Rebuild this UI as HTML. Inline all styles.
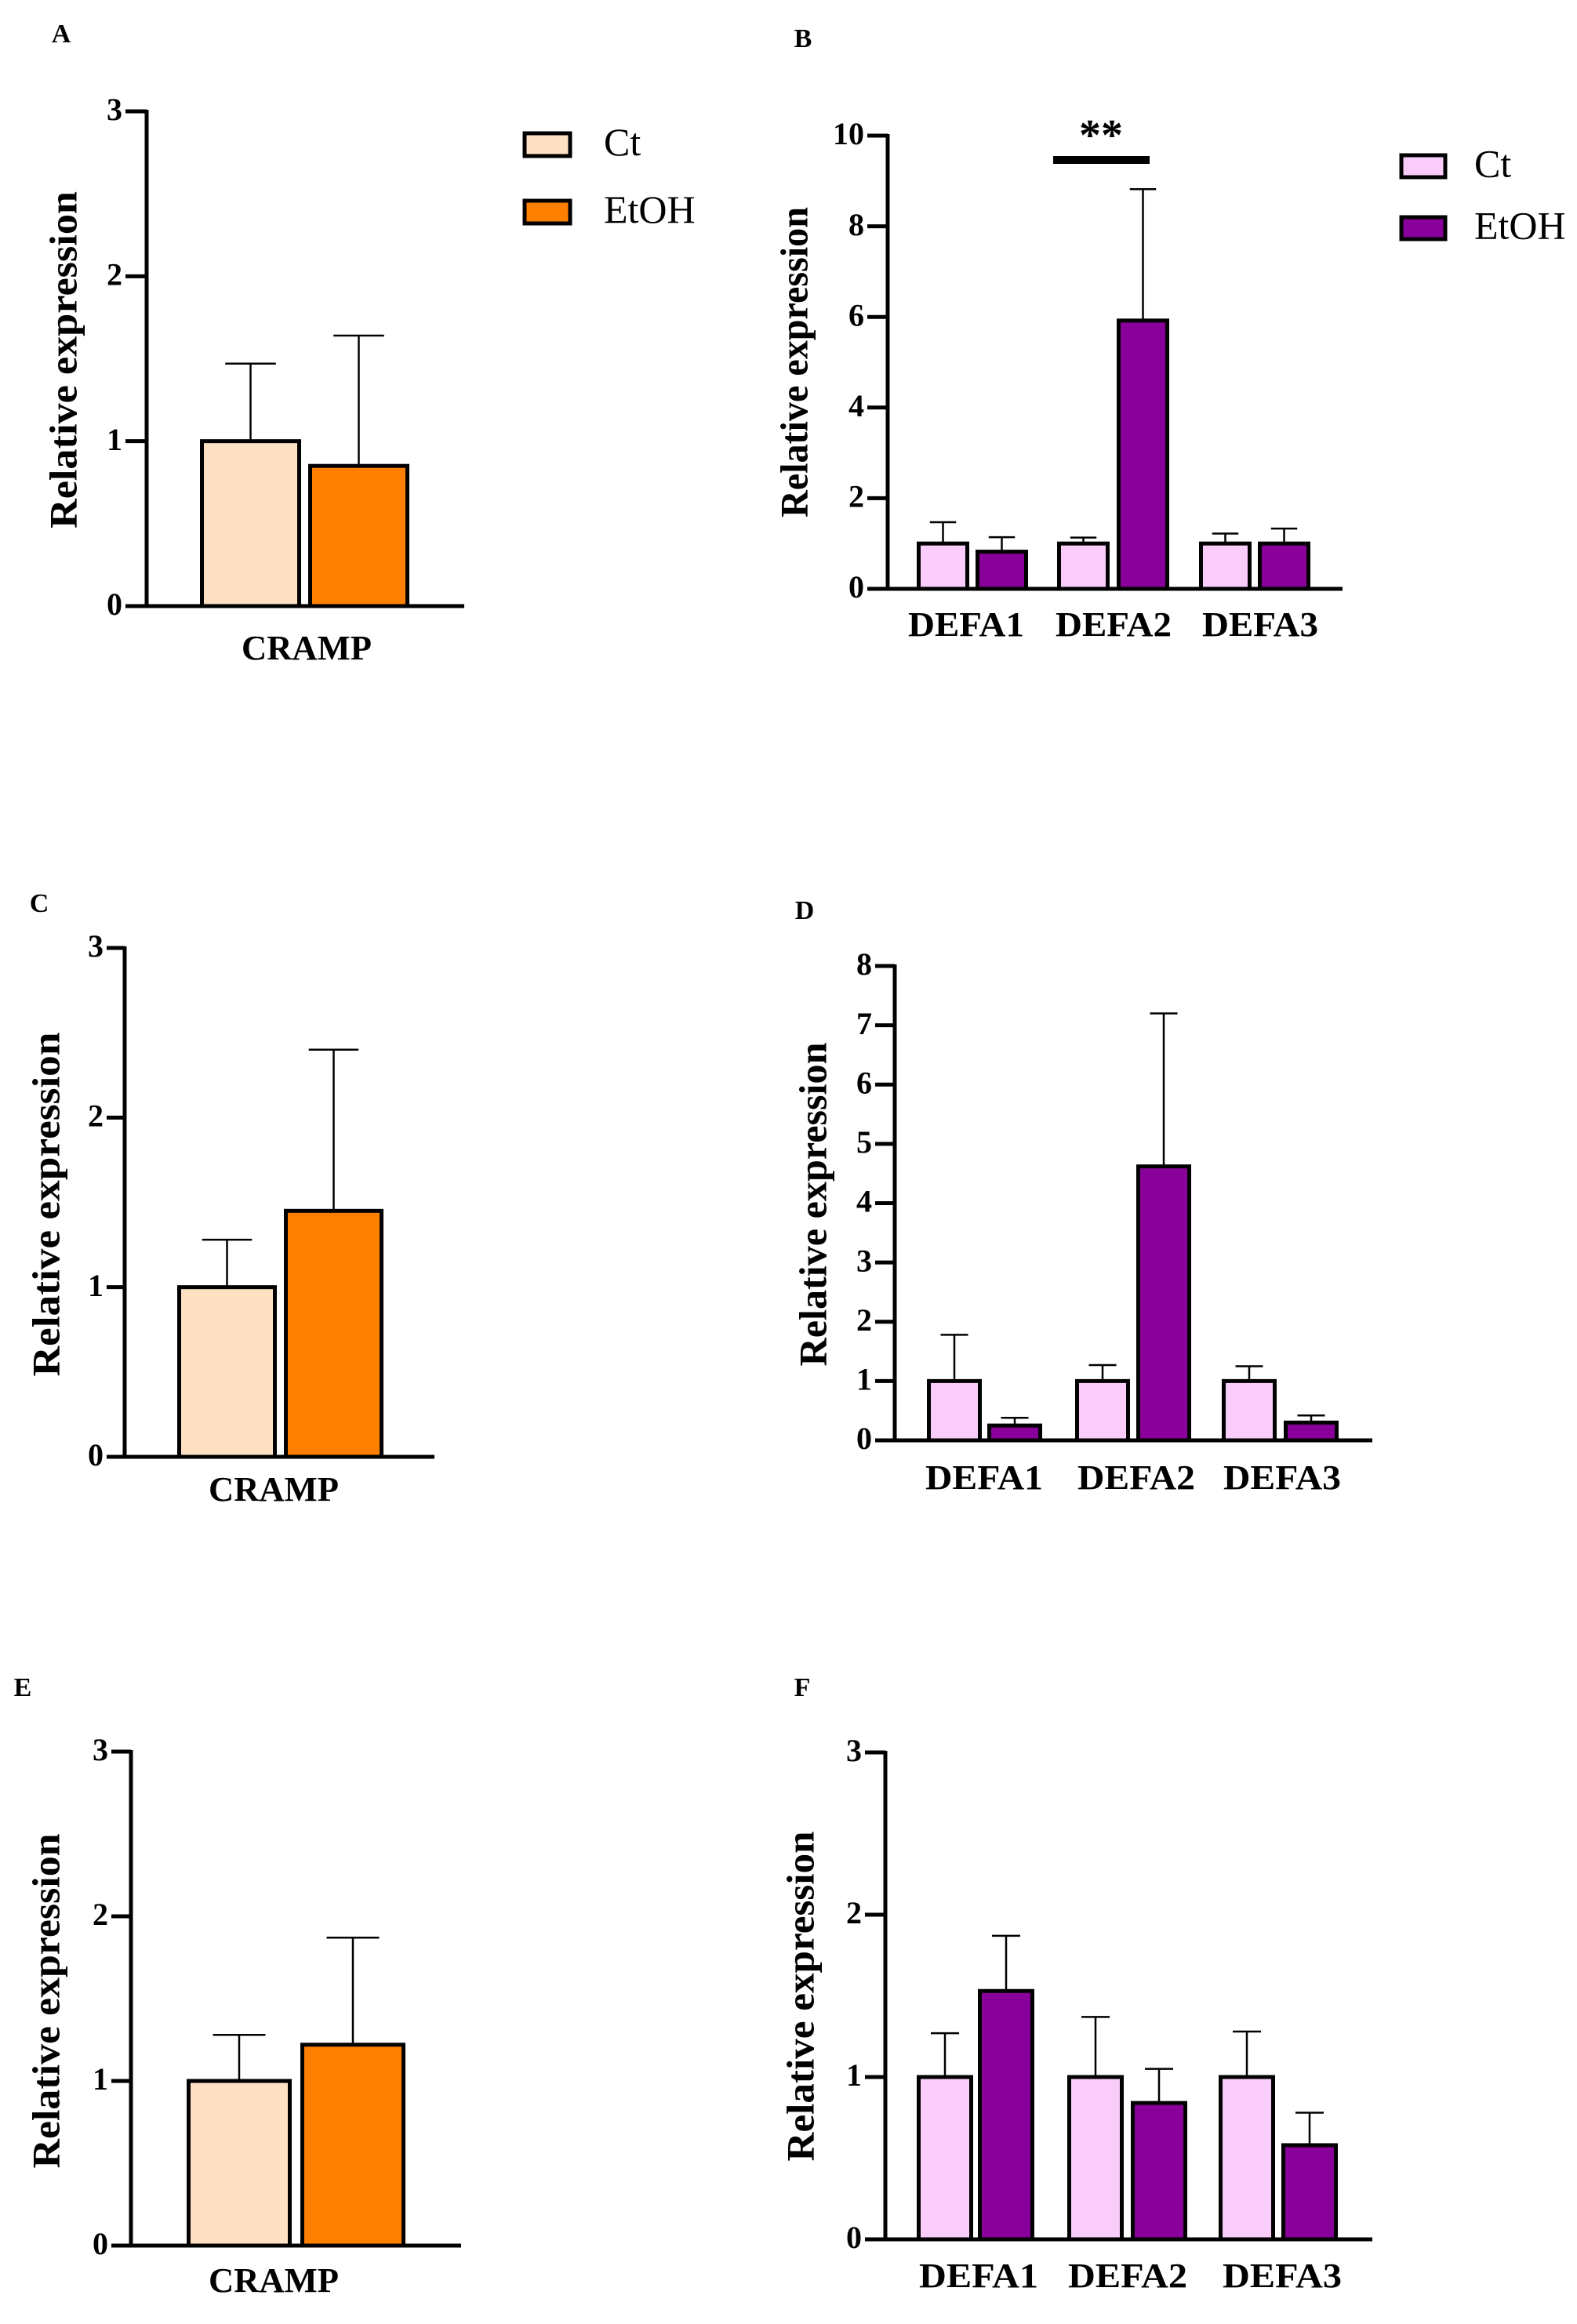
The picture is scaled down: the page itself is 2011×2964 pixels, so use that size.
<!DOCTYPE html>
<html><head><meta charset="utf-8">
<style>
html,body{margin:0;padding:0;background:#fff;}
svg{display:block;}
text{font-family:"Liberation Serif","Times New Roman",serif;font-weight:bold;fill:#000;}
</style></head>
<body>
<svg id="fig" width="2011" height="2964" viewBox="0 0 2011 2964" xmlns="http://www.w3.org/2000/svg"></svg>
<script>
// ---- data ----
const crampCategories = ["CRAMP"];
const defaCategories = ["DEFA1", "DEFA2", "DEFA3"];
const seriesNames = ["Ct", "EtOH"];

const aCt = [1.0];      const aCtErr = [1.47];
const aEt = [0.85];     const aEtErr = [1.64];
const bCt = [1.0, 1.0, 1.0];   const bCtErr = [1.47, 1.13, 1.22];
const bEt = [0.82, 5.92, 1.0]; const bEtErr = [1.14, 8.82, 1.33];
const cCt = [1.0];      const cCtErr = [1.28];
const cEt = [1.45];     const cEtErr = [2.40];
const dCt = [1.0, 1.0, 1.0];   const dCtErr = [1.78, 1.27, 1.25];
const dEt = [0.25, 4.62, 0.30]; const dEtErr = [0.38, 7.20, 0.42];
const eCt = [1.0];      const eCtErr = [1.28];
const eEt = [1.22];     const eEtErr = [1.87];
const fCt = [1.0, 1.0, 1.0];   const fCtErr = [1.27, 1.37, 1.28];
const fEt = [1.53, 0.84, 0.58]; const fEtErr = [1.87, 1.05, 0.78];

const ticks3 = [0, 1, 2, 3];
const ticks10 = [0, 2, 4, 6, 8, 10];
const ticks8 = [0, 1, 2, 3, 4, 5, 6, 7, 8];

const NS = "http://www.w3.org/2000/svg";
const svg = document.getElementById("fig");
function mk(tag, attrs, parent) {
  const el = document.createElementNS(NS, tag);
  for (const k in attrs) el.setAttribute(k, attrs[k]);
  (parent || svg).appendChild(el);
  return el;
}

function panel(cfg) {
  const g = mk("g", {});
  
  
  const yScale = v => cfg.y0 - (v / cfg.max) * (cfg.y0 - cfg.yTop);
  // letter
  const lt = mk("text", {x: cfg.lx, y: cfg.ly, "font-size": 34, "text-anchor": "middle", "dominant-baseline": "middle"}, g);
  lt.textContent = cfg.letter;
  
  
  // y label
  const yl = mk("text", {x: 0, y: 0, "font-size": 50, "text-anchor": "middle", "dominant-baseline": "middle",
    textLength: cfg.ylLen, lengthAdjust: "spacingAndGlyphs",
    transform: "translate(" + cfg.ylx + "," + cfg.yly + ") rotate(-90)"}, g);
  yl.textContent = "Relative expression";
  
  
  // bars
  const n = cfg.cats.length;
  for (let i = 0; i < n; i++) {
    const specs = [[cfg.ct[i], cfg.ctErr[i], cfg.ctX[i], cfg.colors[0], "ct"], [cfg.et[i], cfg.etErr[i], cfg.etX[i], cfg.colors[1], "etoh"]];
    specs.forEach(s => {
      const [v, err, x, col, nm] = s;
      const cx = x + cfg.bw / 2;
      const eb = mk("line", {x1: cx, x2: cx, y1: yScale(v), y2: yScale(err), stroke: "#000", "stroke-width": 2.5}, g);
      
      
      const cap = mk("line", {x1: cx - cfg.bw / 4, x2: cx + cfg.bw / 4, y1: yScale(err), y2: yScale(err), stroke: "#000", "stroke-width": 2.5}, g);
      
      
      const r = mk("rect", {x: x + 2.5, y: yScale(v), width: cfg.bw - 5, height: cfg.y0 - yScale(v), fill: col, stroke: "#000", "stroke-width": 5}, g);
      
      
    });
    const cl = mk("text", {x: cfg.catX[i], y: cfg.catY, "font-size": 44, "text-anchor": "middle", "dominant-baseline": "middle",
      textLength: cfg.catLen, lengthAdjust: "spacingAndGlyphs"}, g);
    cl.textContent = cfg.cats[i];
    
    
  }
  // axes
  const ya = mk("line", {x1: cfg.ax, x2: cfg.ax, y1: cfg.yTop - 2, y2: cfg.y0 + 2, stroke: "#000", "stroke-width": 5}, g);
  
  
  const xa = mk("line", {x1: cfg.tickL, x2: cfg.axEnd, y1: cfg.y0, y2: cfg.y0, stroke: "#000", "stroke-width": 5}, g);
  
  
  cfg.ticks.forEach(t => {
    const ty = yScale(t);
    const tl = mk("line", {x1: cfg.tickL, x2: cfg.ax, y1: ty, y2: ty, stroke: "#000", "stroke-width": 5}, g);
    
    
    const tt = mk("text", {x: cfg.tickL - 4, y: ty + 2, "font-size": 40, "text-anchor": "end", "dominant-baseline": "middle"}, g);
    tt.textContent = String(t);
    
    
  });
  // legend
  if (cfg.legend) {
    const L = cfg.legend;
    seriesNames.forEach((nm, k) => {
      const lg = mk("g", {}, g);
      
      
      mk("rect", {x: L.bx, y: L.by[k], width: L.bw, height: L.bh, fill: cfg.colors[k], stroke: "#000", "stroke-width": 5}, lg);
      const t = mk("text", {x: L.tx, y: L.by[k] + L.bh / 2 + 2, "font-size": 50, "dominant-baseline": "middle"}, lg);
      t.setAttribute("font-weight", "normal");
      t.style.fontWeight = "normal";
      t.textContent = nm;
    });
  }
  return {g, yScale};
}

const orange = ["#FEE1C2", "#FF8000"];
const purple = ["#F9CCF9", "#880099"];

panel({letter: "A", lx: 78, ly: 46, ylx: 86, yly: 459, ylLen: 430,
  cats: crampCategories, ct: aCt, ctErr: aCtErr, et: aEt, etErr: aEtErr,
  ctX: [255], etX: [393], bw: 129, colors: orange, catX: [391], catY: 831, catLen: 166,
  ax: 187, yTop: 142, y0: 773, max: 3, tickL: 160, axEnd: 592, ticks: ticks3,
  legend: {bx: 669, bw: 58, bh: 29, by: [170, 256], tx: 770}});

const pB = panel({letter: "B", lx: 1024, ly: 52, ylx: 1018, yly: 462, ylLen: 396,
  cats: defaCategories, ct: bCt, ctErr: bCtErr, et: bEt, etErr: bEtErr,
  ctX: [1169, 1348, 1529], etX: [1244, 1424, 1604], bw: 67, colors: purple,
  catX: [1232, 1420, 1607], catY: 801, catLen: 148,
  ax: 1132, yTop: 173, y0: 751, max: 10, tickL: 1106, axEnd: 1712, ticks: ticks10,
  legend: {bx: 1787, bw: 56, bh: 28, by: [198, 277], tx: 1880}});
const sig = mk("line", {x1: 1343, x2: 1466, y1: 204, y2: 204, stroke: "#000", "stroke-width": 10});


const stars = mk("text", {x: 1404, y: 178, "font-size": 56, "text-anchor": "middle", "dominant-baseline": "middle"});
stars.textContent = "**";



panel({letter: "C", lx: 50, ly: 1155, ylx: 64, yly: 1536, ylLen: 439,
  cats: crampCategories, ct: cCt, ctErr: cCtErr, et: cEt, etErr: cEtErr,
  ctX: [226], etX: [362], bw: 127, colors: orange, catX: [349], catY: 1904, catLen: 166,
  ax: 159, yTop: 1209, y0: 1858, max: 3, tickL: 136, axEnd: 554, ticks: ticks3});

panel({letter: "D", lx: 1026, ly: 1164, ylx: 1042, yly: 1536, ylLen: 413,
  cats: defaCategories, ct: dCt, ctErr: dCtErr, et: dEt, etErr: dEtErr,
  ctX: [1182, 1371, 1558], etX: [1259, 1449, 1637], bw: 70, colors: purple,
  catX: [1255, 1449, 1635], catY: 1889, catLen: 150,
  ax: 1141, yTop: 1232, y0: 1837, max: 8, tickL: 1116, axEnd: 1750, ticks: ticks8});

panel({letter: "E", lx: 29, ly: 2155, ylx: 64, yly: 2552, ylLen: 427,
  cats: crampCategories, ct: eCt, ctErr: eCtErr, et: eEt, etErr: eEtErr,
  ctX: [238], etX: [383], bw: 134, colors: orange, catX: [349], catY: 2913, catLen: 166,
  ax: 167, yTop: 2234, y0: 2864, max: 3, tickL: 142, axEnd: 588, ticks: ticks3});

panel({letter: "F", lx: 1023, ly: 2155, ylx: 1026, yly: 2546, ylLen: 421,
  cats: defaCategories, ct: fCt, ctErr: fCtErr, et: fEt, etErr: fEtErr,
  ctX: [1169, 1361, 1554], etX: [1247, 1442, 1634], bw: 72, colors: purple,
  catX: [1248, 1438, 1635], catY: 2907, catLen: 152,
  ax: 1129, yTop: 2235, y0: 2856, max: 3, tickL: 1103, axEnd: 1750, ticks: ticks3});
</script>
</body></html>
